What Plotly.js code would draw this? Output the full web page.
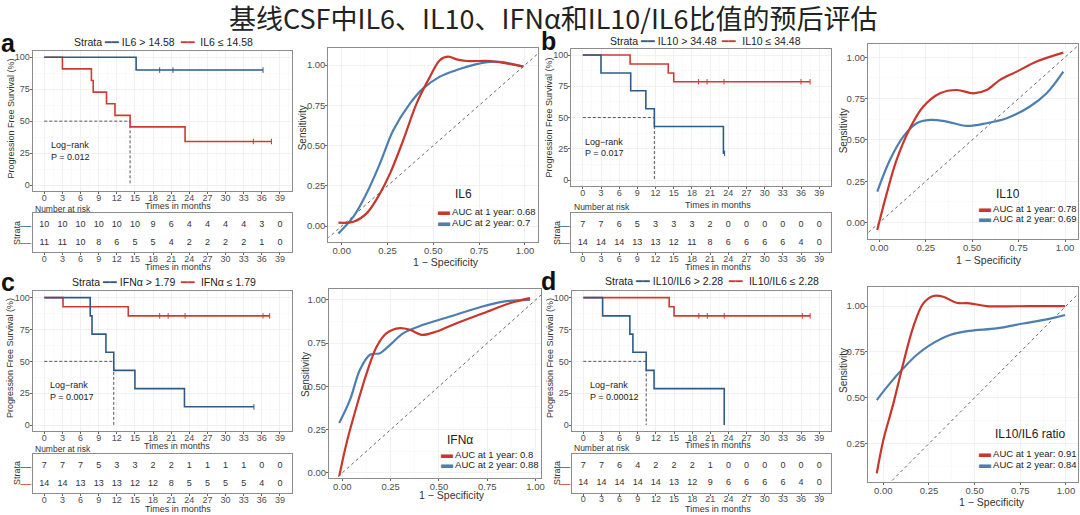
<!DOCTYPE html>
<html><head><meta charset="utf-8">
<script src="https://cdn.plot.ly/plotly-3.0.1.min.js"></script>
<style>html,body{margin:0;padding:0;background:#fff}#chart{width:1080px;height:515px}</style>
</head><body><div id="chart"></div>
<script>
// ================= DATA =================
const chartTitle = '基线CSF中IL6、IL10、IFNα和IL10/IL6比值的预后评估';
const riskTimes = [0,3,6,9,12,15,18,21,24,27,30,33,36,39];

// ---- Panel a: IL6 ----
const a_hiName = 'IL6 &gt; 14.58', a_loName = 'IL6 ≤ 14.58';
const a_hiTime = [0, 15.2, 36.2];
const a_hiSurv = [100, 90, 90];
const a_loTime = [0, 3, 7.8, 8.1, 10.3, 11.7, 14.2, 23.3, 37.6];
const a_loSurv = [100, 90.9, 81.8, 72.7, 63.6, 54.5, 45.5, 34.1, 34.1];
const a_hiCensor = [19.1, 21.3, 36.2];
const a_loCensor = [34.6, 37.6];
const a_median = 14.2;
const a_pval = 'P = 0.012';
const a_riskHi = [10,10,10,10,10,10,9,6,4,4,4,4,3,0];
const a_riskLo = [11,11,10,8,6,5,5,4,2,2,2,2,1,0];
const a_rocTitle = 'IL6';
const a_auc1 = 'AUC at 1 year: 0.68', a_auc2 = 'AUC at 2 year: 0.7';
const a_roc1x = [-0.018,0.064,0.136,0.209,0.264,0.336,0.409,0.482,0.536,0.582,0.627,0.682,0.809,0.9,0.991];
const a_roc1y = [0.021,0.027,0.079,0.203,0.327,0.534,0.762,0.928,1.031,1.052,1.035,1.025,1.025,1.01,0.99];
const a_roc2x = [-0.018,0.064,0.136,0.209,0.282,0.373,0.445,0.536,0.627,0.736,0.845,0.991];
const a_roc2y = [-0.046,0.058,0.203,0.389,0.596,0.762,0.855,0.928,0.969,1.006,1.021,0.99];

// ---- Panel b: IL10 ----
const b_hiName = 'IL10 &gt; 34.48', b_loName = 'IL10 ≤ 34.48';
const b_hiTime = [0, 3, 7.9, 10.4, 11.8, 23.2, 23.4];
const b_hiSurv = [100, 85.7, 71.4, 57.1, 42.9, 21.4, 21.4];
const b_loTime = [0, 7.8, 14.1, 15, 37.5];
const b_loSurv = [100, 92.9, 85.7, 78.6, 78.6];
const b_hiCensor = [23.4];
const b_loCensor = [19.1, 20.5, 23.3, 36, 37.5];
const b_median = 11.8;
const b_pval = 'P = 0.017';
const b_riskHi = [7,7,6,5,3,3,3,2,0,0,0,0,0,0];
const b_riskLo = [14,14,14,13,13,12,11,8,6,6,6,6,4,0];
const b_rocTitle = 'IL10';
const b_auc1 = 'AUC at 1 year: 0.78', b_auc2 = 'AUC at 2 year: 0.69';
const b_roc1x = [-0.011,0.04,0.093,0.165,0.237,0.327,0.417,0.506,0.578,0.65,0.74,0.847,0.991];
const b_roc1y = [-0.044,0.177,0.379,0.571,0.702,0.782,0.802,0.782,0.802,0.863,0.913,0.974,1.028];
const b_roc2x = [-0.011,0.057,0.129,0.201,0.273,0.363,0.47,0.578,0.686,0.811,0.901,0.991];
const b_roc2y = [0.188,0.379,0.52,0.601,0.621,0.611,0.585,0.601,0.631,0.702,0.782,0.913];

// ---- Panel c: IFNα ----
const c_hiName = 'IFNα &gt; 1.79', c_loName = 'IFNα ≤ 1.79';
const c_hiTime = [0, 7.6, 7.9, 10.2, 11.5, 15, 23.2, 34.7];
const c_hiSurv = [100, 85.7, 71.4, 57.1, 42.9, 28.6, 14.3, 14.3];
const c_loTime = [0, 3.1, 13.9, 37.3];
const c_loSurv = [100, 92.9, 85.7, 85.7];
const c_hiCensor = [34.7];
const c_loCensor = [19.1, 20.5, 23.3, 36.2, 37.3];
const c_median = 11.5;
const c_pval = 'P = 0.0017';
const c_riskHi = [7,7,7,5,3,3,2,2,1,1,1,1,0,0];
const c_riskLo = [14,14,13,13,13,12,12,8,5,5,5,5,4,0];
const c_rocTitle = 'IFNα';
const c_auc1 = 'AUC at 1 year: 0.8', c_auc2 = 'AUC at 2 year: 0.88';
const c_roc1x = [-0.016,0.022,0.074,0.126,0.178,0.229,0.298,0.35,0.41,0.488,0.591,0.729,0.867,0.971];
const c_roc1y = [-0.019,0.173,0.385,0.577,0.731,0.808,0.837,0.827,0.798,0.817,0.865,0.923,0.981,1.01];
const c_roc2x = [-0.016,0.04,0.091,0.143,0.195,0.247,0.316,0.419,0.557,0.695,0.833,0.971];
const c_roc2y = [0.288,0.423,0.596,0.683,0.692,0.74,0.808,0.856,0.904,0.952,0.99,1.0];

// ---- Panel d: IL10/IL6 ----
const d_hiName = 'IL10/IL6 &gt; 2.28', d_loName = 'IL10/IL6 ≤ 2.28';
const d_hiTime = [0, 3.2, 7.7, 8.2, 10.4, 11.7, 23.3];
const d_hiSurv = [100, 85.7, 71.4, 57.1, 42.9, 28.6, 0];
const d_loTime = [0, 14.2, 15, 37.5];
const d_loSurv = [100, 92.9, 85.7, 85.7];
const d_hiCensor = [];
const d_loCensor = [19.1, 20.5, 23.3, 36.2, 37.5];
const d_median = 10.4;
const d_pval = 'P = 0.00012';
const d_riskHi = [7,7,6,4,2,2,2,1,0,0,0,0,0,0];
const d_riskLo = [14,14,14,14,14,13,12,9,6,6,6,6,4,0];
const d_rocTitle = 'IL10/IL6 ratio';
const d_auc1 = 'AUC at 1 year: 0.91', d_auc2 = 'AUC at 2 year: 0.84';
const d_roc1x = [-0.036,0,0.055,0.109,0.164,0.219,0.274,0.328,0.401,0.474,0.566,0.803,0.995];
const d_roc1y = [0.087,0.269,0.469,0.687,0.887,1.015,1.055,1.051,1.018,1.015,1.0,1.0,1.0];
const d_roc2x = [-0.036,0.036,0.109,0.182,0.255,0.365,0.474,0.62,0.766,0.894,0.995];
const d_roc2y = [0.487,0.578,0.66,0.733,0.787,0.842,0.865,0.878,0.905,0.927,0.951];

// ================= LAYOUT CONFIG (positions in px) =================
const W = 1080, H = 515;
const px = v => v / W, py = v => 1 - v / H;
const FONT = 'Liberation Sans, Arial, sans-serif';
const KM_RED = '#cd3c32', KM_BLUE = '#2f5b8a';
const ROC_RED = '#c9362c', ROC_BLUE = '#4c7fb0';

const panels = [
  {letter:'a', hiT:a_hiTime, hiS:a_hiSurv, loT:a_loTime, loS:a_loSurv, hiC:a_hiCensor, loC:a_loCensor, med:a_median, p:a_pval,
   rHi:a_riskHi, rLo:a_riskLo, hiN:a_hiName, loN:a_loName, rocT:a_rocTitle, auc1:a_auc1, auc2:a_auc2,
   r1x:a_roc1x, r1y:a_roc1y, r2x:a_roc2x, r2y:a_roc2y,
   km:{x:[32.5,291.7], y:[50.9,191.4]}, tab:{y:[213,252]},
   roc:{x:[328.3,538], y:[48.3,242], xr:[-0.073,1.071], yr:[-0.099,1.104]},
   t:{letter:[8,43], leg:[71.7,41.7], kmY:[10,118.5], kmX:[177.5,205.5], nar:[33,208.5], strata:[17,233], tabX:[178,267],
      lr:[49.3,145], pv:[49.3,157.3], rocY:[303.3,128], rocX:[446,262], rocT:[463,194], item:[436,211,222]}},
  {letter:'b', hiT:b_hiTime, hiS:b_hiSurv, loT:b_loTime, loS:b_loSurv, hiC:b_hiCensor, loC:b_loCensor, med:b_median, p:b_pval,
   rHi:b_riskHi, rLo:b_riskLo, hiN:b_hiName, loN:b_loName, rocT:b_rocTitle, auc1:b_auc1, auc2:b_auc2,
   r1x:b_roc1x, r1y:b_roc1y, r2x:b_roc2x, r2y:b_roc2y,
   km:{x:[571,831], y:[48.8,186.3]}, tab:{y:[213,252]},
   roc:{x:[868,1078], y:[44,239], xr:[-0.061,1.07], yr:[-0.099,1.08]},
   t:{letter:[548,41], leg:[608,40.7], kmY:[548.5,118], kmX:[717.5,204.5], nar:[572,207], strata:[557,233], tabX:[717.7,267],
      lr:[583.3,141.7], pv:[583.3,153.3], rocY:[843.3,131], rocX:[989,259.5], rocT:[1008,194], item:[977,208.3,218.3]}},
  {letter:'c', hiT:c_hiTime, hiS:c_hiSurv, loT:c_loTime, loS:c_loSurv, hiC:c_hiCensor, loC:c_loCensor, med:c_median, p:c_pval,
   rHi:c_riskHi, rLo:c_riskLo, hiN:c_hiName, loN:c_loName, rocT:c_rocTitle, auc1:c_auc1, auc2:c_auc2,
   r1x:c_roc1x, r1y:c_roc1y, r2x:c_roc2x, r2y:c_roc2y,
   km:{x:[32.5,291.7], y:[291.3,431.4]}, tab:{y:[454,493]},
   roc:{x:[329,541], y:[289,478], xr:[-0.069,1.028], yr:[-0.03,1.063]},
   t:{letter:[8,282], leg:[70,281.7], kmY:[10,358], kmX:[177,445.5], nar:[33,448.5], strata:[17,473], tabX:[178,509.3],
      lr:[48.3,385], pv:[48.3,397.3], rocY:[305,375], rocX:[451.7,495], rocT:[460,440], item:[439,454,463.5]}},
  {letter:'d', hiT:d_hiTime, hiS:d_hiSurv, loT:d_loTime, loS:d_loSurv, hiC:d_hiCensor, loC:d_loCensor, med:d_median, p:d_pval,
   rHi:d_riskHi, rLo:d_riskLo, hiN:d_hiName, loN:d_loName, rocT:d_rocTitle, auc1:d_auc1, auc2:d_auc2,
   r1x:d_roc1x, r1y:d_roc1y, r2x:d_roc2x, r2y:d_roc2y,
   km:{x:[571.5,831], y:[291.3,431.4]}, tab:{y:[454,492.5]},
   roc:{x:[868,1078], y:[287,482], xr:[-0.084,1.066], yr:[0.04,1.104]},
   t:{letter:[548,281], leg:[603,280.7], kmY:[550,358], kmX:[717.5,445], nar:[572,447.5], strata:[557,473], tabX:[717.7,509],
      lr:[588.3,385], pv:[588.3,397.3], rocY:[843,371], rocX:[991.7,502], rocT:[1030,434], item:[977,453.3,463.5]}}
];

// ================= BUILD =================
const axKey = (n, l) => l + 'axis' + (n === 1 ? '' : n);
const axRef = (n, l) => l + (n === 1 ? '' : n);
const survAt = (T, S, t) => { let v = S[0]; for (let i = 0; i < T.length; i++) if (T[i] <= t) v = S[i]; return v; };

const frame = {showline:true, mirror:true, linecolor:'#8c8c8c', linewidth:1, zeroline:false};
const tickStyle = {ticks:'outside', ticklen:2, tickcolor:'#666', tickfont:{size:9,color:'#4d4d4d',family:FONT}};
const kmXax = Object.assign({}, frame, tickStyle, {range:[-1.95,40.95], tickmode:'linear', tick0:0, dtick:3, ticklabelstandoff:-4,
  showgrid:true, gridcolor:'#ebebeb', gridwidth:0.7,
  minor:{tickmode:'linear', tick0:1.5, dtick:3, showgrid:true, gridcolor:'#f5f5f5', gridwidth:0.5}});
const kmYax = Object.assign({}, frame, tickStyle, {range:[-5,105], tickmode:'linear', tick0:0, dtick:25, ticklabelstandoff:-2,
  showgrid:true, gridcolor:'#ebebeb', gridwidth:0.7,
  minor:{tickmode:'linear', tick0:12.5, dtick:25, showgrid:true, gridcolor:'#f5f5f5', gridwidth:0.5}});
const tabXax = Object.assign({}, frame, tickStyle, {range:[-1.95,40.95], tickmode:'linear', tick0:0, dtick:3, ticklabelstandoff:-4, showgrid:false});
const tabYax = Object.assign({}, frame, {range:[-0.55,1.7], tickmode:'array', tickvals:[0,1],
  ticktext:['<span style="color:'+KM_RED+'">—</span>','<span style="color:'+KM_BLUE+'">—</span>'],
  ticks:'', ticklabelstandoff:-2, tickfont:{size:11,family:FONT}, showgrid:false});
const rocAx = Object.assign({}, frame, tickStyle, {tickmode:'linear', tick0:0, dtick:0.25, tickformat:'.2f',
  tickfont:{size:9.5,color:'#4d4d4d',family:FONT}, showgrid:true, gridcolor:'#ebebeb', gridwidth:0.7,
  minor:{tickmode:'linear', tick0:0.125, dtick:0.25, showgrid:true, gridcolor:'#f5f5f5', gridwidth:0.5}});

const traces = [];
const layout = {width:W, height:H, margin:{l:0,r:0,t:0,b:0}, paper_bgcolor:'#fff', plot_bgcolor:'#fff',
  showlegend:false, font:{family:FONT, color:'#333'}, annotations:[]};

function ann(text, x, y, o) {
  layout.annotations.push(Object.assign({text:text, x:px(x), y:py(y), xref:'paper', yref:'paper', showarrow:false,
    xanchor:'center', yanchor:'middle', font:{family:FONT, size:9, color:'#333'}}, o || {}));
}

ann(chartTitle, 553, 17.5, {font:{family:'Noto Sans CJK SC, sans-serif', size:27, color:'#222'}});

panels.forEach((P, i) => {
  const nK = 3*i+1, nT = 3*i+2, nR = 3*i+3;
  layout[axKey(nK,'x')] = Object.assign({}, kmXax, {domain:[px(P.km.x[0]), px(P.km.x[1])], anchor:axRef(nK,'y')});
  layout[axKey(nK,'y')] = Object.assign({}, kmYax, {domain:[py(P.km.y[1]), py(P.km.y[0])], anchor:axRef(nK,'x')});
  layout[axKey(nT,'x')] = Object.assign({}, tabXax, {domain:[px(P.km.x[0]), px(P.km.x[1])], anchor:axRef(nT,'y')});
  layout[axKey(nT,'y')] = Object.assign({}, tabYax, {domain:[py(P.tab.y[1]), py(P.tab.y[0])], anchor:axRef(nT,'x')});
  layout[axKey(nR,'x')] = Object.assign({}, rocAx, {ticklabelstandoff:-2, range:P.roc.xr, domain:[px(P.roc.x[0]), px(P.roc.x[1])], anchor:axRef(nR,'y')});
  layout[axKey(nR,'y')] = Object.assign({}, rocAx, {ticklabelstandoff:-2, range:P.roc.yr, domain:[py(P.roc.y[1]), py(P.roc.y[0])], anchor:axRef(nR,'x')});

  const kx = axRef(nK,'x'), ky = axRef(nK,'y');
  traces.push({type:'scatter', mode:'lines', x:[0, P.med, P.med], y:[50, 50, 0], xaxis:kx, yaxis:ky,
    line:{color:'#555', width:1, dash:'3px,2px'}, hoverinfo:'skip'});
  traces.push({type:'scatter', mode:'lines', x:P.loT, y:P.loS, xaxis:kx, yaxis:ky, line:{color:KM_RED, width:1.6, shape:'hv'}});
  traces.push({type:'scatter', mode:'lines', x:P.hiT, y:P.hiS, xaxis:kx, yaxis:ky, line:{color:KM_BLUE, width:1.6, shape:'hv'}});
  traces.push({type:'scatter', mode:'markers', x:P.loC, y:P.loC.map(t => survAt(P.loT, P.loS, t)), xaxis:kx, yaxis:ky,
    marker:{symbol:'line-ns', size:4, line:{width:1, color:KM_RED}}});
  traces.push({type:'scatter', mode:'markers', x:P.hiC, y:P.hiC.map(t => survAt(P.hiT, P.hiS, t)), xaxis:kx, yaxis:ky,
    marker:{symbol:'line-ns', size:4, line:{width:1, color:KM_BLUE}}});
  const tx = axRef(nT,'x'), ty = axRef(nT,'y');
  traces.push({type:'scatter', mode:'text', x:riskTimes, y:riskTimes.map(() => 1), text:P.rHi.map(String), xaxis:tx, yaxis:ty,
    textfont:{size:9, color:'#333', family:FONT}, cliponaxis:false});
  traces.push({type:'scatter', mode:'text', x:riskTimes, y:riskTimes.map(() => 0), text:P.rLo.map(String), xaxis:tx, yaxis:ty,
    textfont:{size:9, color:'#333', family:FONT}, cliponaxis:false});
  const rx = axRef(nR,'x'), ry = axRef(nR,'y');
  traces.push({type:'scatter', mode:'lines', x:[-0.3, 1.3], y:[-0.3, 1.3], xaxis:rx, yaxis:ry,
    line:{color:'#666', width:1, dash:'3px,3px'}});
  traces.push({type:'scatter', mode:'lines', x:P.r2x, y:P.r2y, xaxis:rx, yaxis:ry, line:{color:ROC_BLUE, width:2.2, shape:'spline', smoothing:1}});
  traces.push({type:'scatter', mode:'lines', x:P.r1x, y:P.r1y, xaxis:rx, yaxis:ry, line:{color:ROC_RED, width:2.2, shape:'spline', smoothing:1}});

  const T = P.t;
  ann(P.letter, T.letter[0], T.letter[1], {font:{family:FONT, size:25, color:'#111', weight:'bold'}});
  ann('Strata <span style="color:'+KM_BLUE+'">━━</span> '+P.hiN+'  <span style="color:'+KM_RED+'">━━</span>  '+P.loN,
      T.leg[0], T.leg[1], {xanchor:'left', font:{family:FONT, size:10.5, color:'#222'}});
  ann('Progression Free Survival (%)', T.kmY[0], T.kmY[1], {textangle:-90, font:{family:FONT, size:9, color:'#333'}});
  ann('Times in months', T.kmX[0], T.kmX[1], {font:{family:FONT, size:9, color:'#333'}});
  ann('Number at risk', T.nar[0], T.nar[1], {xanchor:'left', font:{family:FONT, size:8.5, color:'#333'}});
  ann('Strata', T.strata[0], T.strata[1], {textangle:-90, font:{family:FONT, size:9, color:'#333'}});
  ann('Times in months', T.tabX[0], T.tabX[1], {font:{family:FONT, size:9, color:'#333'}});
  ann('Log−rank', T.lr[0], T.lr[1], {xanchor:'left', font:{family:FONT, size:9, color:'#222'}});
  ann(P.p, T.pv[0], T.pv[1], {xanchor:'left', font:{family:FONT, size:9, color:'#222'}});
  ann('Sensitivity', T.rocY[0], T.rocY[1], {textangle:-90, font:{family:FONT, size:10, color:'#333'}});
  ann('1 − Specificity', T.rocX[0], T.rocX[1], {font:{family:FONT, size:10.5, color:'#333'}});
  ann(P.rocT, T.rocT[0], T.rocT[1], {font:{family:FONT, size:12, color:'#222'}});
  ann('<span style="color:'+ROC_RED+';font-size:12px">▬</span> '+P.auc1, T.item[0], T.item[1], {xanchor:'left', font:{family:FONT, size:9.5, color:'#222'}});
  ann('<span style="color:'+ROC_BLUE+';font-size:12px">▬</span> '+P.auc2, T.item[0], T.item[2], {xanchor:'left', font:{family:FONT, size:9.5, color:'#222'}});
});

Plotly.newPlot('chart', traces, layout, {staticPlot:true, displayModeBar:false});
</script>
</body></html>
